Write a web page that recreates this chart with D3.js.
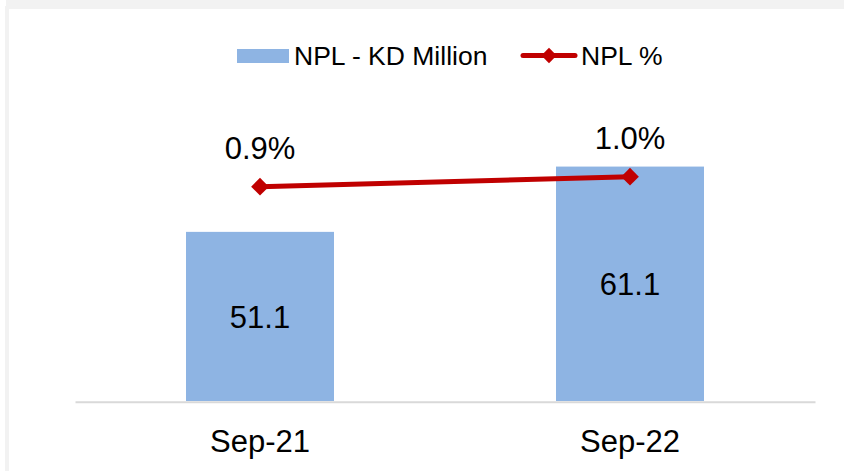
<!DOCTYPE html>
<html>
<head>
<meta charset="utf-8">
<script src="https://cdn.jsdelivr.net/npm/d3@7"></script>
<style>
  html, body { margin: 0; padding: 0; background: #fff; }
  svg { display: block; font-family: "Liberation Sans", Arial, sans-serif; }
</style>
</head>
<body>
<svg id="chart" width="844" height="471"></svg>
<script>
const categories = ["Sep-21", "Sep-22"];
const nplAmount = [51.1, 61.1];
const nplPct = [0.9, 1.0];
const amountLabels = ["51.1", "61.1"];
const pctLabels = ["0.9%", "1.0%"];
const legendLabels = ["NPL - KD Million", "NPL %"];

const W = 844, H = 471;
const svg = d3.select("#chart");

// frame bands
svg.append("rect").attr("x", 6).attr("y", 0).attr("width", W - 6).attr("height", 9).attr("fill", "#f2f2f2");
svg.append("rect").attr("x", 5).attr("y", 6).attr("width", 4).attr("height", H - 6).attr("fill", "#f2f2f2");

const x = d3.scaleBand().domain(categories).range([75, 815]).paddingInner(0.6).paddingOuter(0.3);
const y = d3.scaleLinear().domain([25.2, 85.2]).range([401, 9.2]);
const y2 = d3.scaleLinear().domain([0.8, 1.1]).range([196.7, 166.7]);

const barColor = "#8eb4e3";
const lineColor = "#c00000";
const labelSize = 31;

// bars
svg.append("g").selectAll("rect").data(categories).join("rect")
  .attr("x", d => x(d))
  .attr("y", (d, i) => y(nplAmount[i]))
  .attr("width", x.bandwidth())
  .attr("height", (d, i) => y(y.domain()[0]) - y(nplAmount[i]))
  .attr("fill", barColor);

// axis baseline + labels
const xAxis = d3.axisBottom(x).tickSize(0).tickPadding(28);
const gx = svg.append("g").attr("transform", `translate(0,${y(y.domain()[0]) + 0.7})`).call(xAxis);
gx.select(".domain").attr("stroke", "#d9d9d9").attr("stroke-width", 2);
gx.selectAll("text").attr("font-size", labelSize).attr("fill", "#000")
  .attr("font-family", "'Liberation Sans', Arial, sans-serif").attr("dy", "0.71em");

// bar value labels
svg.append("g").selectAll("text").data(categories).join("text")
  .attr("x", d => x(d) + x.bandwidth() / 2)
  .attr("y", (d, i) => (y(nplAmount[i]) + y(y.domain()[0])) / 2 + 11.5)
  .attr("text-anchor", "middle").attr("font-size", labelSize).attr("fill", "#000")
  .text((d, i) => amountLabels[i]);

// line
const cx = d => x(d) + x.bandwidth() / 2;
const line = d3.line().x(d => cx(d)).y((d, i) => y2(nplPct[i]));
svg.append("path").datum(categories).attr("d", line)
  .attr("fill", "none").attr("stroke", lineColor).attr("stroke-width", 5);

const diamond = d3.symbol().type(d3.symbolDiamond2).size(200);
svg.append("g").selectAll("path").data(categories).join("path")
  .attr("d", diamond)
  .attr("transform", (d, i) => `translate(${cx(d)},${y2(nplPct[i])})`)
  .attr("fill", lineColor);

// pct labels
svg.append("g").selectAll("text").data(categories).join("text")
  .attr("x", d => cx(d))
  .attr("y", (d, i) => y2(nplPct[i]) - 28)
  .attr("text-anchor", "middle").attr("font-size", labelSize).attr("fill", "#000")
  .text((d, i) => pctLabels[i]);

// legend
const lg = svg.append("g");
lg.append("rect").attr("x", 237).attr("y", 49).attr("width", 52).attr("height", 14).attr("fill", barColor);
lg.append("text").attr("x", 294).attr("y", 65).attr("font-size", 26.5).attr("fill", "#000").text(legendLabels[0]);
lg.append("line").attr("x1", 523).attr("x2", 575).attr("y1", 55.5).attr("y2", 55.5)
  .attr("stroke", lineColor).attr("stroke-width", 5).attr("stroke-linecap", "round");
lg.append("path").attr("d", d3.symbol().type(d3.symbolDiamond2).size(150)).attr("transform", "translate(549,55.5)").attr("fill", lineColor);
lg.append("text").attr("x", 581).attr("y", 65).attr("font-size", 26.5).attr("fill", "#000").text(legendLabels[1]);
</script>
</body>
</html>
